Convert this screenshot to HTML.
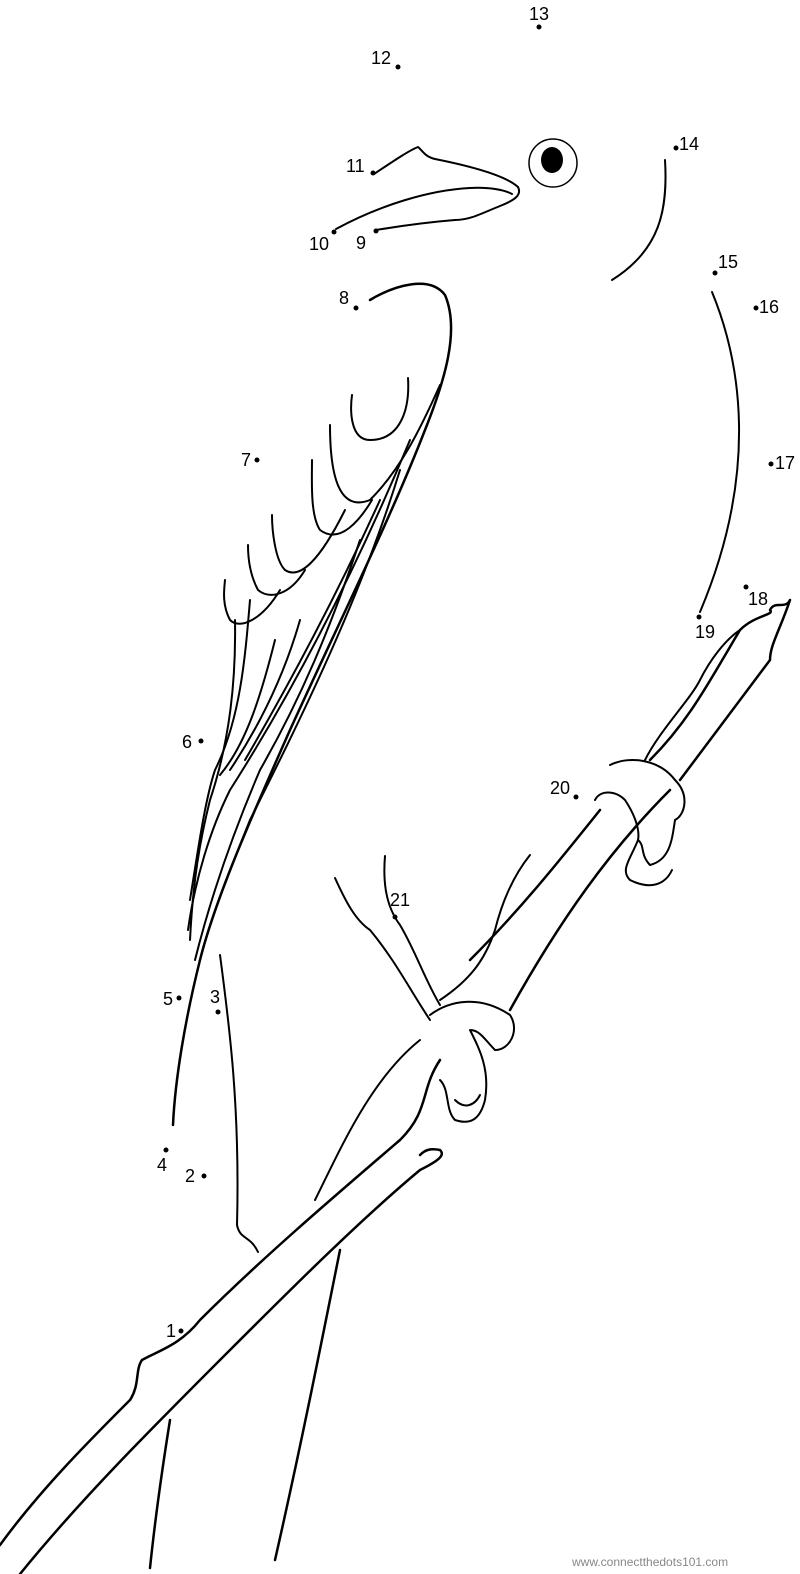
<!DOCTYPE html>
<html><head><meta charset="utf-8"><style>
html,body{margin:0;padding:0;background:#fff;}
svg{display:block}
text{font-family:"Liberation Sans",sans-serif;font-size:18px;fill:#000}
</style></head><body>
<svg width="800" height="1574" viewBox="0 0 800 1574" xmlns="http://www.w3.org/2000/svg">
<g fill="none" stroke="#000" stroke-width="2" stroke-linecap="round" stroke-linejoin="round">
<!-- eye -->
<circle cx="553" cy="163" r="24" stroke-width="1.5"/>
<!-- beak -->
<path d="M374,174 C395,160 410,150 418,147 C422,150 425,157 435,159 C470,166 505,175 518,187 C522,195 515,200 500,206 C480,214 470,220 455,220 C430,222 400,226 376,230"/>
<path d="M336,229 C380,205 430,190 470,188 C490,187 505,190 512,194"/>
<!-- throat -->
<path d="M665,160 C668,210 660,250 612,280"/>
<!-- breast -->
<path d="M712,292 C740,360 760,470 700,612"/>
<!-- back / wing outline -->
<path d="M370,300 C395,285 430,275 445,295 C460,330 445,380 425,430 C390,520 340,620 290,730 C250,820 215,900 200,960 C185,1020 175,1080 173,1125" stroke-width="2.5"/>
<!-- wing feathers -->
<path d="M408,378 C410,410 400,440 370,440 C350,440 350,410 352,395"/>
<path d="M440,385 C420,430 400,470 370,500 C345,510 330,490 330,425"/>
<path d="M372,500 C360,520 340,545 320,530 C310,515 312,480 312,460"/>
<path d="M345,510 C320,560 300,580 285,570 C275,560 272,530 272,515"/>
<path d="M305,570 C290,595 270,600 258,590 C250,575 248,560 248,545"/>
<path d="M280,590 C262,620 240,630 230,620 C222,605 224,590 225,580"/>
<path d="M410,440 C360,560 300,680 230,790 C210,830 195,880 188,930"/>
<path d="M380,500 C330,610 280,700 245,760"/>
<path d="M360,540 C330,630 300,700 260,770 C230,840 210,900 195,960"/>
<path d="M300,620 C280,690 250,740 230,770"/>
<path d="M275,640 C260,700 245,745 220,775"/>
<path d="M250,600 C245,660 240,720 215,770 C205,800 198,850 190,900"/>
<path d="M235,620 C236,680 230,740 210,800 C200,840 193,880 190,940"/>
<path d="M400,470 C360,600 300,720 250,820 C230,870 210,920 200,960"/>
<!-- tail -->
<path d="M220,955 C230,1030 240,1110 237,1225 C240,1240 250,1235 258,1252"/>
<!-- branch main -->
<path d="M0,1545 C40,1490 90,1440 130,1400 C140,1385 135,1370 142,1360 C160,1350 180,1345 200,1320 C260,1260 330,1200 400,1140 C430,1110 420,1090 440,1060" stroke-width="2.5"/>
<path d="M20,1574 C80,1500 150,1430 230,1350 C290,1290 360,1220 420,1170 C440,1160 445,1155 440,1150 C430,1148 425,1150 420,1155" stroke-width="2.5"/>
<path d="M510,1010 C560,920 610,850 670,790" stroke-width="2.5"/>
<path d="M470,960 C520,910 560,860 600,810" stroke-width="2.5"/>
<path d="M650,760 C690,720 710,680 740,630 C755,615 775,615 770,610 C775,600 785,610 790,600 C780,630 770,645 770,660 C740,700 710,740 680,780" stroke-width="2.5"/>
<path d="M645,760 C660,730 690,700 700,680 C710,660 725,640 740,630"/>
<!-- lower branch -->
<path d="M340,1250 C320,1350 300,1450 275,1560" stroke-width="2.5"/>
<path d="M170,1420 C162,1470 155,1520 150,1568" stroke-width="2.5"/>
<path d="M315,1200 C340,1150 370,1080 420,1040"/>
<!-- legs -->
<path d="M335,878 C345,900 355,920 370,930 C395,960 410,990 430,1020"/>
<path d="M385,856 C383,880 385,905 400,925 C415,950 425,980 440,1005"/>
<path d="M530,855 C510,880 500,910 495,930 C485,960 470,980 440,1000"/>
<!-- foot lower -->
<path d="M430,1015 C450,1000 480,995 510,1015 C520,1030 510,1050 495,1050 C485,1040 480,1030 470,1030 C480,1050 490,1070 485,1100 C480,1120 470,1125 455,1120 C445,1110 450,1090 440,1080"/>
<path d="M455,1100 C465,1110 475,1105 480,1095"/>
<!-- foot upper -->
<path d="M610,765 C630,755 660,760 675,780 C690,795 685,815 675,820 C672,840 670,860 650,865 C640,855 645,845 638,840 C630,860 620,870 630,880 C650,890 665,885 672,870"/>
<path d="M595,800 C600,790 615,790 625,800 C635,815 640,830 638,840"/>
</g>
<!-- eye pupil -->
<ellipse cx="552" cy="160" rx="11" ry="13" fill="#000"/>
<!-- dots -->
<g fill="#000">
<circle cx="181" cy="1331" r="2.5"/><circle cx="204" cy="1176" r="2.5"/><circle cx="218" cy="1012" r="2.5"/>
<circle cx="166" cy="1150" r="2.5"/><circle cx="179" cy="998" r="2.5"/><circle cx="201" cy="741" r="2.5"/>
<circle cx="257" cy="460" r="2.5"/><circle cx="356" cy="308" r="2.5"/><circle cx="376" cy="231" r="2.5"/>
<circle cx="334" cy="232" r="2.5"/><circle cx="373" cy="173" r="2.5"/><circle cx="398" cy="67" r="2.5"/>
<circle cx="539" cy="27" r="2.5"/><circle cx="676" cy="148" r="2.5"/><circle cx="715" cy="273" r="2.5"/>
<circle cx="756" cy="308" r="2.5"/><circle cx="771" cy="464" r="2.5"/><circle cx="746" cy="587" r="2.5"/>
<circle cx="699" cy="617" r="2.5"/><circle cx="576" cy="797" r="2.5"/><circle cx="395" cy="917" r="2.5"/>
</g>
<text x="166" y="1337">1</text><text x="185" y="1182">2</text><text x="210" y="1003">3</text>
<text x="157" y="1171">4</text><text x="163" y="1005">5</text><text x="182" y="748">6</text>
<text x="241" y="466">7</text><text x="339" y="304">8</text><text x="356" y="249">9</text>
<text x="309" y="250">10</text><text x="346" y="172">11</text><text x="371" y="64">12</text>
<text x="529" y="20">13</text><text x="679" y="150">14</text><text x="718" y="268">15</text>
<text x="759" y="313">16</text><text x="775" y="469">17</text><text x="748" y="605">18</text>
<text x="695" y="638">19</text><text x="550" y="794">20</text><text x="390" y="906">21</text>
<text x="572" y="1566" style="font-size:12px;fill:#888">www.connectthedots101.com</text>
</svg>
</body></html>
